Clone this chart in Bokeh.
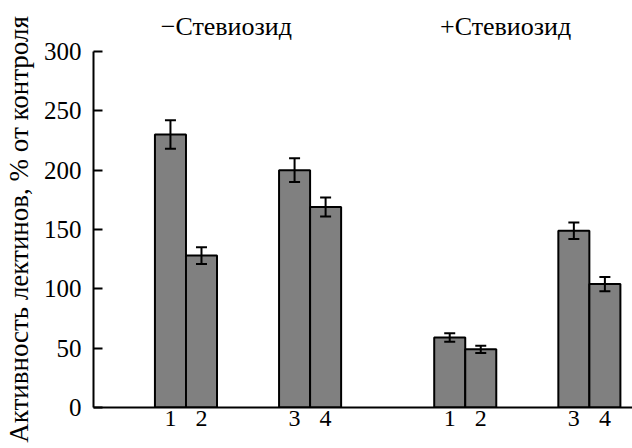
from bokeh.plotting import figure
from bokeh.models import ColumnDataSource, Whisker, TeeHead, FixedTicker, Range1d, LinearAxis
from bokeh.embed import file_html
from bokeh.resources import INLINE

groups = ["\u2212Стевиозид", "+Стевиозид"]
bar_labels = ["1", "2", "3", "4"]
activity_minus = [230, 128, 200, 169]
activity_plus = [59, 49, 149, 104]
error_minus = [12, 7, 10, 8]
error_plus = [3.5, 3, 7, 6]
y_ticks = [0, 50, 100, 150, 200, 250, 300]

FONT = "Liberation Serif"

# layout: two groups, each with two pairs of adjacent bars
xs, tops, errs, labs = [], [], [], []
for gi, (vals, es) in enumerate([(activity_minus, error_minus), (activity_plus, error_plus)]):
    for k in range(4):
        xs.append(gi * 9 + (k // 2) * 4 + (k % 2))
        tops.append(vals[k])
        errs.append(es[k])
        labs.append(bar_labels[k])
group_x = [gi * 9 + 1.8 for gi in range(len(groups))]

src = ColumnDataSource(dict(
    x=xs, top=tops,
    upper=[t + e for t, e in zip(tops, errs)],
    lower=[t - e for t, e in zip(tops, errs)],
))

p = figure(width=632, height=448, output_backend="svg", toolbar_location=None,
           x_range=Range1d(-2.48, 14.89), y_range=Range1d(0, 300),
           min_border_left=90, min_border_right=0, min_border_top=51, min_border_bottom=41)
p.outline_line_color = None
p.xgrid.visible = False
p.ygrid.visible = False

p.vbar(x="x", top="top", width=1, bottom=0, source=src,
       fill_color="#808080", line_color="black", line_width=2)

w = Whisker(source=src, base="x", upper="upper", lower="lower", line_width=2,
            line_color="black",
            upper_head=TeeHead(size=11, line_width=2, line_color="black"),
            lower_head=TeeHead(size=11, line_width=2, line_color="black"))
w.level = "overlay"
p.add_layout(w)

# y axis
ya = p.left[0]
ya.ticker = FixedTicker(ticks=y_ticks)
ya.major_tick_in = 9
ya.major_tick_out = 0
ya.minor_tick_in = 0
ya.minor_tick_out = 0
ya.axis_line_width = 2
ya.major_tick_line_width = 2
ya.major_label_text_font = FONT
ya.major_label_text_font_size = "25px"
ya.major_label_text_color = "black"
ya.major_label_standoff = 12
ya.axis_label = "Активность лектинов, % от контроля"
ya.axis_label_text_font = FONT
ya.axis_label_text_font_size = "27px"
ya.axis_label_text_font_style = "normal"
ya.axis_label_text_color = "black"
ya.axis_label_standoff = 7

# bottom x axis
xa = p.below[0]
xa.ticker = FixedTicker(ticks=xs)
xa.major_label_overrides = {x: l for x, l in zip(xs, labs)}
xa.major_tick_in = 0
xa.major_tick_out = 0
xa.minor_tick_in = 0
xa.minor_tick_out = 0
xa.axis_line_width = 2
xa.major_label_text_font = FONT
xa.major_label_text_font_size = "24px"
xa.major_label_text_color = "black"
xa.major_label_standoff = 3

# group captions as an axis above the frame
top_axis = LinearAxis(ticker=FixedTicker(ticks=group_x),
                      major_label_overrides={x: g for x, g in zip(group_x, groups)},
                      axis_line_color=None, major_tick_line_color=None,
                      minor_tick_line_color=None,
                      major_label_text_font=FONT, major_label_text_font_size="26px",
                      major_label_text_color="black", major_label_standoff=5)
p.add_layout(top_axis, "above")

open("out.html", "w").write(file_html(p, INLINE))
